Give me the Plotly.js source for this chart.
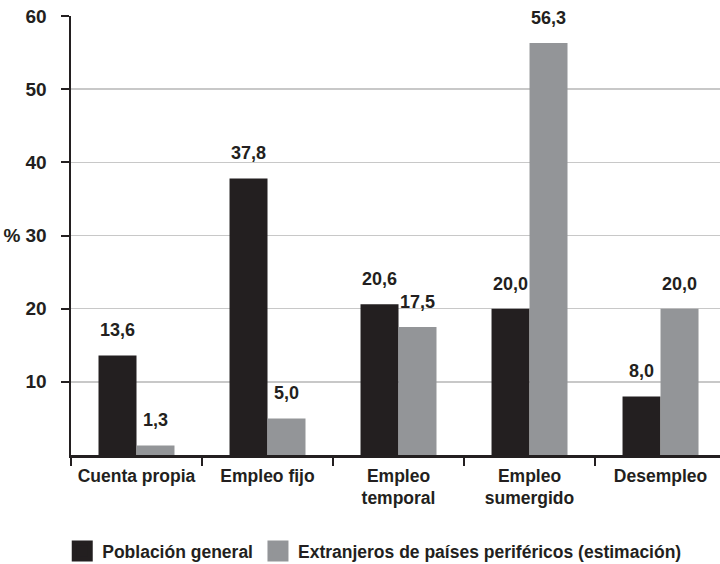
<!DOCTYPE html>
<html>
<head>
<meta charset="utf-8">
<script src="https://cdn.plot.ly/plotly-3.0.1.min.js"></script>
<style>html,body{margin:0;padding:0;background:#fff;}#chart{width:720px;height:564px;}</style>
</head>
<body>
<div id="chart"></div>
<script>
const categories = ["Cuenta propia", "Empleo fijo", "Empleo<br>temporal", "Empleo<br>sumergido", "Desempleo"];
const seriesNames = ["Población general", "Extranjeros de países periféricos (estimación)"];
const poblacionGeneral = [13.6, 37.8, 20.6, 20.0, 8.0];
const extranjeros = [1.3, 5.0, 17.5, 56.3, 20.0];
const yTickVals = [10, 20, 30, 40, 50, 60];
const yTickText = ["10", "20", "% 30", "40", "50", "60"];

const FONT = "Liberation Sans, Arial, sans-serif";
const DARK = "#231f20";
const GREY = "#939598";
const fmt = v => v.toFixed(1).replace(".", ",");

const traces = [
  {type: "bar", name: seriesNames[0], x: categories, y: poblacionGeneral, marker: {color: DARK}, showlegend: false},
  {type: "bar", name: seriesNames[1], x: categories, y: extranjeros, marker: {color: GREY}, showlegend: false},
  // legend proxies (larger square swatches)
  {type: "scatter", mode: "markers", name: seriesNames[0], x: [null], y: [null], showlegend: true,
   marker: {symbol: "square", size: 16, color: DARK, line: {color: DARK, width: 5}}},
  {type: "scatter", mode: "markers", name: seriesNames[1], x: [null], y: [null], showlegend: true,
   marker: {symbol: "square", size: 16, color: GREY, line: {color: GREY, width: 5}}}
];

const half = 0.145;
const annotations = [];
[poblacionGeneral, extranjeros].forEach((arr, s) => {
  arr.forEach((v, i) => {
    annotations.push({
      x: i + (s === 0 ? -half : half), y: v, xref: "x", yref: "y",
      text: fmt(v), showarrow: false, yanchor: "bottom", yshift: 13,
      font: {family: FONT, size: 18, color: DARK, weight: "bold"}
    });
  });
});

const layout = {
  width: 720, height: 564,
  margin: {l: 71, r: 0, t: 16, b: 109, autoexpand: false},
  paper_bgcolor: "#fff", plot_bgcolor: "#fff",
  barmode: "group", bargap: 0.42, bargroupgap: 0,
  font: {family: FONT, color: DARK, size: 17, weight: "bold"},
  xaxis: {
    type: "category", range: [-0.5, 4.454], automargin: false,
    showline: true, linecolor: DARK, linewidth: 2.5,
    ticks: "outside", tickson: "boundaries", ticklen: 8, tickwidth: 1.5, tickcolor: DARK,
    showgrid: false, zeroline: false, ticklabelstandoff: 3,
    tickfont: {family: FONT, size: 17.5, color: DARK, weight: "bold"}
  },
  yaxis: {
    range: [0, 60], tickvals: yTickVals, ticktext: yTickText, automargin: false,
    showline: true, linecolor: DARK, linewidth: 2.5,
    ticks: "outside", ticklen: 8, tickwidth: 2, tickcolor: DARK,
    showgrid: true, gridcolor: "#c8c8c8", gridwidth: 1.5, zeroline: false,
    ticklabelstandoff: 10,
    tickfont: {family: FONT, size: 19, color: DARK, weight: "bold"}
  },
  showlegend: true,
  legend: {
    orientation: "h", x: -0.0135, xanchor: "left",
    y: -0.219, yanchor: "middle",
    font: {family: FONT, size: 17.5, color: DARK, weight: "bold"},
    itemwidth: 30, traceorder: "normal"
  },
  annotations: annotations
};

Plotly.newPlot("chart", traces, layout, {displayModeBar: false, staticPlot: true});
</script>
</body>
</html>
